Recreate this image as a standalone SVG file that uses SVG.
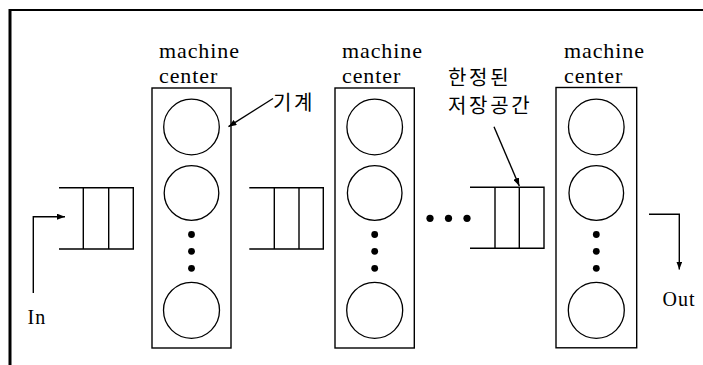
<svg xmlns="http://www.w3.org/2000/svg" width="703" height="365" viewBox="0 0 703 365">
<defs>
<style>
.ln{fill:none;stroke:#000;stroke-width:1.4}
.c{fill:none;stroke:#000;stroke-width:1.3}
.dot{fill:#000}
.en{font-family:"Liberation Serif","Times New Roman",serif;font-size:22px;letter-spacing:0.9px;fill:#000}
.io{font-family:"Liberation Serif","Times New Roman",serif;font-size:20px;letter-spacing:1px;fill:#000}
.ko{font-family:"Noto Sans CJK KR","Noto Sans",sans-serif;font-size:20px;letter-spacing:2.7px;fill:#000}
</style>
<marker id="ah" markerWidth="8" markerHeight="6" refX="8" refY="3" orient="auto" markerUnits="userSpaceOnUse">
<path d="M0,0 L8,3 L0,6 Z" fill="#000"/>
</marker>
</defs>
<rect width="703" height="365" fill="#fff"/>
<g id="frame">
<line x1="10" y1="10" x2="703" y2="10" stroke="#000" stroke-width="2.2"/>
<line x1="10" y1="9" x2="10" y2="365" stroke="#000" stroke-width="3"/>
</g>
<g id="mc1">
<text class="en" x="159" y="58">machine</text>
<text class="en" x="159" y="83">center</text>
<rect class="ln" x="152" y="88" width="79" height="260"/>
<circle class="c" cx="191.5" cy="127" r="27.8"/>
<circle class="c" cx="191.5" cy="193" r="27.3"/>
<circle class="dot" cx="191.5" cy="234.5" r="3.4"/>
<circle class="dot" cx="191.5" cy="251.3" r="3.4"/>
<circle class="dot" cx="191.5" cy="268.3" r="3.4"/>
<circle class="c" cx="191.5" cy="310.3" r="28"/>
</g>
<g id="mc2">
<text class="en" x="342" y="58">machine</text>
<text class="en" x="342" y="83">center</text>
<rect class="ln" x="335" y="88" width="79.3" height="260"/>
<circle class="c" cx="374.7" cy="127" r="27.8"/>
<circle class="c" cx="374.7" cy="193" r="27.3"/>
<circle class="dot" cx="374.7" cy="234.5" r="3.4"/>
<circle class="dot" cx="374.7" cy="251.3" r="3.4"/>
<circle class="dot" cx="374.7" cy="268.3" r="3.4"/>
<circle class="c" cx="374.7" cy="310.3" r="28"/>
</g>
<g id="mc3">
<text class="en" x="564" y="58">machine</text>
<text class="en" x="564" y="83">center</text>
<rect class="ln" x="556" y="87.5" width="80.7" height="260.3"/>
<circle class="c" cx="596.3" cy="127" r="27.8"/>
<circle class="c" cx="596.3" cy="193" r="27.3"/>
<circle class="dot" cx="596.3" cy="234.5" r="3.4"/>
<circle class="dot" cx="596.3" cy="251.3" r="3.4"/>
<circle class="dot" cx="596.3" cy="268.3" r="3.4"/>
<circle class="c" cx="596.3" cy="310.3" r="28"/>
</g>
<g id="q1">
<path class="ln" d="M59,187.7 H133.3 V249 H59 M83.3,187.7 V249 M108.7,187.7 V249"/>
</g>
<g id="q2">
<path class="ln" d="M249.3,187.7 H323.3 V249 H249.3 M274.3,187.7 V249 M299,187.7 V249"/>
</g>
<g id="q3">
<path class="ln" d="M470,187.3 H544 V248.3 H470 M495,187.3 V248.3 M519.3,187.3 V248.3"/>
</g>
<g id="ellipsis">
<circle class="dot" cx="430" cy="218.3" r="3.6"/>
<circle class="dot" cx="448.5" cy="218.3" r="3.6"/>
<circle class="dot" cx="467" cy="218.3" r="3.6"/>
</g>
<g id="labels">
<text class="io" x="27.5" y="324">In</text>
<text class="io" x="662.5" y="306">Out</text>
<text class="ko" x="273" y="110">기계</text>
<text class="ko" x="448" y="85">한정된</text>
<text class="ko" x="448" y="113">저장공간</text>
</g>
<g id="connectors">
<path class="ln" d="M33.3,293 V216.7 H65" marker-end="url(#ah)"/>
<path class="ln" d="M649,214.3 H679.3 V269.5" marker-end="url(#ah)"/>
<path class="ln" d="M273,98.5 L228.5,126.7" marker-end="url(#ah)"/>
<path class="ln" d="M494,126.7 L519.3,186" marker-end="url(#ah)"/>
</g>
</svg>
